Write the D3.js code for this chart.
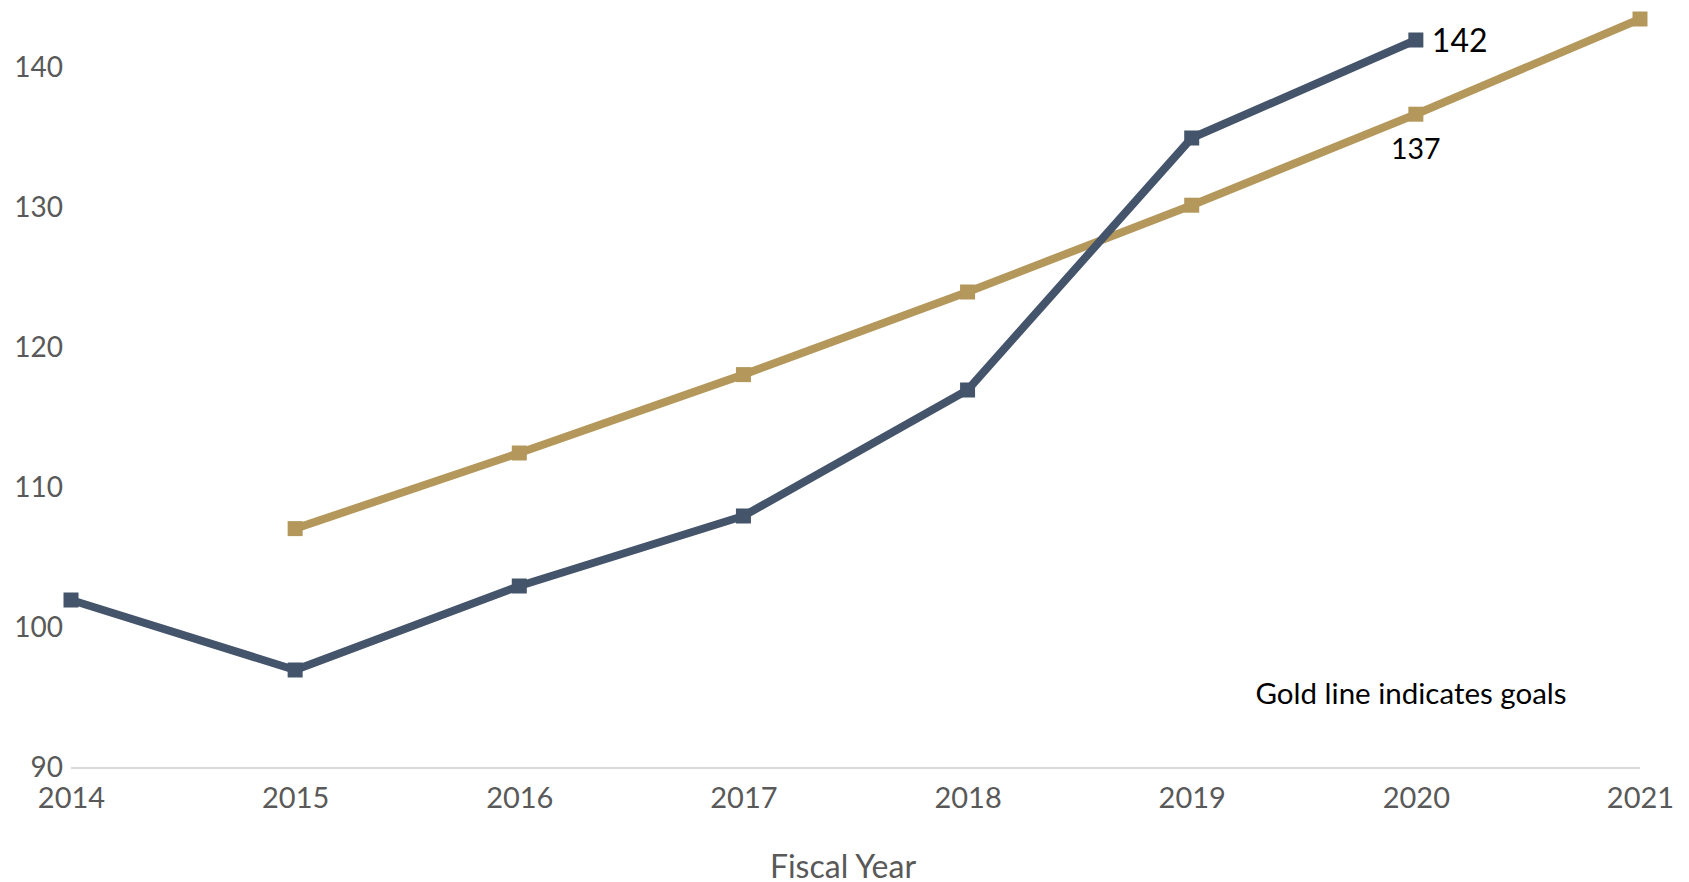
<!DOCTYPE html>
<html><head><meta charset="utf-8">
<script src="https://cdn.jsdelivr.net/npm/d3@7"></script>
<style>body{margin:0;background:#fff}svg{display:block}text{font-family:Lato,"Open Sans",sans-serif}</style>
</head><body>
<svg id="c" width="1689" height="882"></svg>
<script>
const years = [2014, 2015, 2016, 2017, 2018, 2019, 2020, 2021];
const actualYears = [2014, 2015, 2016, 2017, 2018, 2019, 2020];
const actualValues = [102, 97, 103, 108, 117, 135, 142];
const goalYears = [2015, 2016, 2017, 2018, 2019, 2020, 2021];
const goalValues = [107.1, 112.5, 118.1, 124, 130.2, 136.7, 143.5];
const yTicks = [90, 100, 110, 120, 130, 140];

const svg = d3.select("#c");
const x = d3.scaleLinear().domain([2014, 2021]).range([71, 1640]);
const y = d3.scaleLinear().domain([90, 140]).range([768, 68]);

// baseline
svg.append("line").attr("x1", x(2014)).attr("x2", x(2021)).attr("y1", y(90)).attr("y2", y(90))
  .attr("stroke", "#D9D9D9").attr("stroke-width", 2);

// y axis labels
const ya = svg.append("g").attr("transform", "translate(63,0)")
  .call(d3.axisLeft(y).tickValues(yTicks).tickSize(0).tickPadding(0));
ya.select(".domain").remove();
ya.selectAll("text").attr("font-size", 28).attr("fill", "#595959").attr("font-family", "Lato");

// x axis labels
const xa = svg.append("g").attr("transform", `translate(0,${y(90)})`)
  .call(d3.axisBottom(x).tickValues(years).tickFormat(d3.format("d")).tickSize(0).tickPadding(19));
xa.select(".domain").remove();
xa.selectAll("text").attr("font-size", 29).attr("fill", "#595959").attr("font-family", "Lato");

const line = d3.line().x(d => x(d[0])).y(d => y(d[1]));
function series(xs, vs, color) {
  const pts = xs.map((d, i) => [d, vs[i]]);
  svg.append("path").datum(pts).attr("d", line).attr("fill", "none")
    .attr("stroke", color).attr("stroke-width", 8).attr("stroke-linejoin", "round");
  svg.append("g").selectAll("rect").data(pts).join("rect")
    .attr("x", d => x(d[0]) - 7.5).attr("y", d => y(d[1]) - 7.5)
    .attr("width", 15).attr("height", 15).attr("fill", color);
  return pts;
}
series(goalYears, goalValues, "#B4975A");
series(actualYears, actualValues, "#44546A");

// data labels
svg.append("text").attr("x", x(2020) + 16).attr("y", y(142)).attr("dy", "0.36em")
  .attr("font-size", 32).attr("fill", "#000").text("142");
svg.append("text").attr("x", x(2020)).attr("y", y(136.7) + 35).attr("dy", "0.36em")
  .attr("text-anchor", "middle").attr("font-size", 28.5).attr("fill", "#000").text("137");

svg.append("text").attr("x", 1411).attr("y", 693).attr("dy", "0.36em").attr("text-anchor", "middle")
  .attr("font-size", 29.5).attr("fill", "#000").text("Gold line indicates goals");

svg.append("text").attr("x", 843).attr("y", 866).attr("dy", "0.36em").attr("text-anchor", "middle")
  .attr("font-size", 32).attr("fill", "#595959").text("Fiscal Year");
</script>
</body></html>
